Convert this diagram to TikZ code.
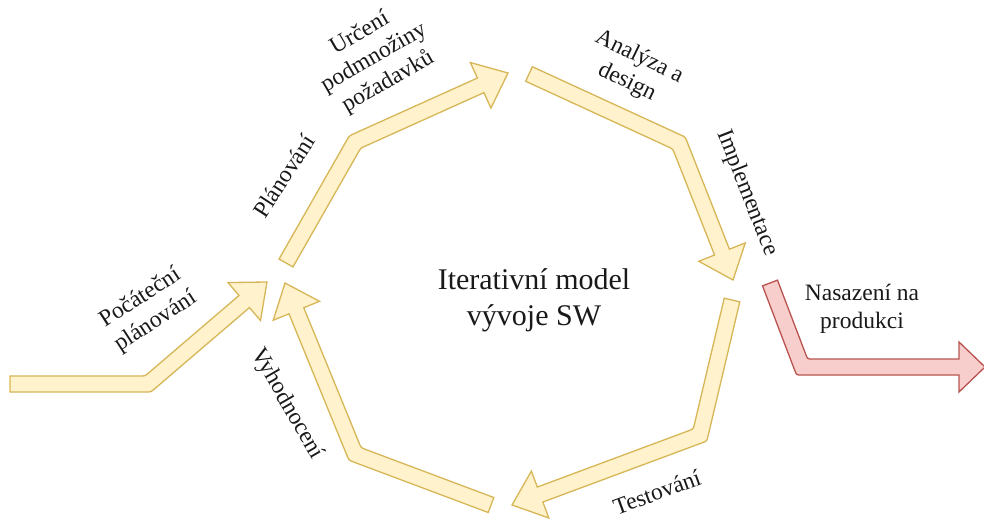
\documentclass[tikz,border=0pt]{standalone}
\usepackage{fontspec}
\setmainfont{Liberation Serif}
\usetikzlibrary{calc}

\definecolor{stepfill}{HTML}{FFF2CC}
\definecolor{stepline}{HTML}{D6B656}
\definecolor{prodfill}{HTML}{F8CECC}
\definecolor{prodline}{HTML}{B85450}

% half shaft width, half head width, corner radius
\def\fw{8pt}
\def\fh{25pt}
\def\fr{5pt}

% flat bent arrow: #1 style, #2 tail, #3 bend, #4 tip, #5 head length
\newcommand\bentarrow[5]{%
  \coordinate (faH) at ($(#4)!#5!(#3)$);
  \coordinate (faAl) at ($(#2)!\fw!90:(#3)$);
  \coordinate (faAr) at ($(#2)!\fw!-90:(#3)$);
  \coordinate (faBal) at ($(#3)!\fw!-90:(#2)$);
  \coordinate (faBar) at ($(#3)!\fw!90:(#2)$);
  \coordinate (faBbl) at ($(#3)!\fw!90:(#4)$);
  \coordinate (faBbr) at ($(#3)!\fw!-90:(#4)$);
  \coordinate (faHl) at ($(faH)!\fw!90:(#4)$);
  \coordinate (faHr) at ($(faH)!\fw!-90:(#4)$);
  \coordinate (faHHl) at ($(faH)!\fh!90:(#4)$);
  \coordinate (faHHr) at ($(faH)!\fh!-90:(#4)$);
  \coordinate (faBl) at (intersection of faAl--faBal and faBbl--faHl);
  \coordinate (faBr) at (intersection of faAr--faBar and faBbr--faHr);
  \coordinate (faBlA) at ($(faBl)!\fr!(faAl)$);
  \coordinate (faBlB) at ($(faBl)!\fr!(faHl)$);
  \coordinate (faBrA) at ($(faBr)!\fr!(faAr)$);
  \coordinate (faBrB) at ($(faBr)!\fr!(faHr)$);
  \draw[#1] (faAr) -- (faAl) -- (faBlA) .. controls (faBl) .. (faBlB)
    -- (faHl) -- (faHHl) -- (#4) -- (faHHr) -- (faHr)
    -- (faBrB) .. controls (faBr) .. (faBrA) -- cycle;
}

\tikzset{
  stepflow/.style={fill=stepfill, draw=stepline, line width=1.3pt},
  prodflow/.style={fill=prodfill, draw=prodline, line width=1.3pt},
  lbl/.style={font=\fontsize{23.5}{28}\selectfont, text=black!90, align=center, inner sep=0pt},
  heading/.style={font=\fontsize{30}{36}\selectfont, text=black!90, align=center, inner sep=0pt},
}

\begin{document}
\begin{tikzpicture}[x=1pt, y=-1pt]
  \useasboundingbox (0,0) rectangle (984,521);

  % arrow geometry: tail, bend, tip
  \coordinate (sA) at (10,384);  \coordinate (sB) at (148,384); \coordinate (sC) at (267,282);
  \coordinate (pA) at (286,263); \coordinate (pB) at (355,142); \coordinate (pC) at (508,73);
  \coordinate (dA) at (529,74);  \coordinate (dB) at (679,143); \coordinate (dC) at (733,280);
  \coordinate (tA) at (732,300); \coordinate (tB) at (700,435); \coordinate (tC) at (512,505);
  \coordinate (eA) at (491,505); \coordinate (eB) at (355,454); \coordinate (eC) at (285,283);
  \coordinate (rA) at (770,283); \coordinate (rB) at (802,367); \coordinate (rC) at (985,367);

  \bentarrow{stepflow}{sA}{sB}{sC}{30pt}
  \bentarrow{stepflow}{pA}{pB}{pC}{30pt}
  \bentarrow{stepflow}{dA}{dB}{dC}{30pt}
  \bentarrow{stepflow}{tA}{tB}{tC}{30pt}
  \bentarrow{stepflow}{eA}{eB}{eC}{30pt}
  \bentarrow{prodflow}{rA}{rB}{rC}{26pt}

  % labels
  \node[lbl, rotate=33] (lStart) at (148,310) {Počáteční\\plánování};
  \node[lbl, rotate=57] (lPlan) at (284,176) {Plánování};
  \node[lbl, rotate=30] (lReq) at (374,58) {Určení\\podmnožiny\\požadavků};
  \node[lbl, rotate=-26] (lDesign) at (633,70) {Analýza a\\design};
  \node[lbl, rotate=-68.5] (lImpl) at (747,193) {Implementace};
  \node[lbl] (lDeploy) at (862,309) {Nasazení na\\produkci};
  \node[lbl, rotate=20] (lTest) at (657,492) {Testování};
  \node[lbl, rotate=-60] (lEval) at (287,404) {Vyhodnocení};

  \node[heading] (title) at (534,300) {Iterativní model\\vývoje SW};
\end{tikzpicture}
\end{document}
